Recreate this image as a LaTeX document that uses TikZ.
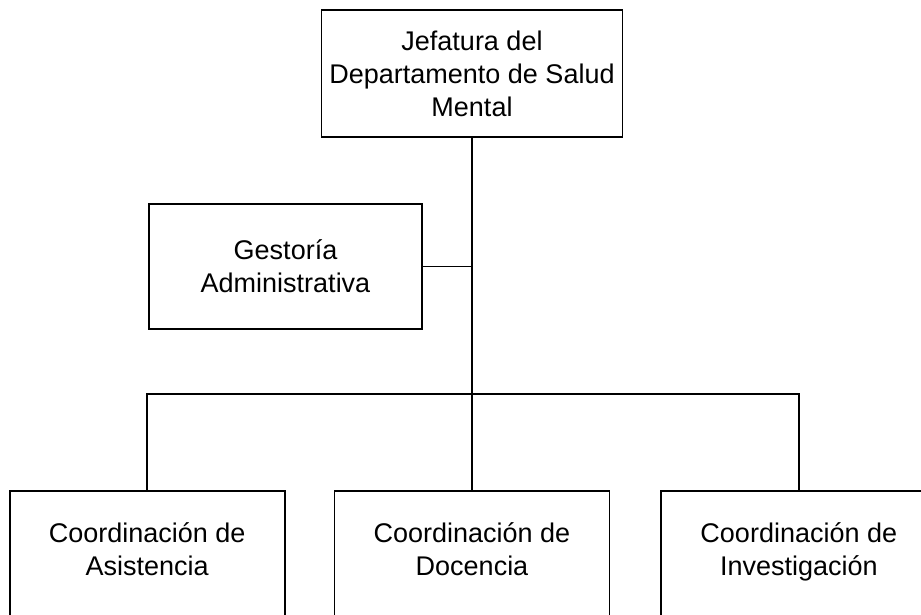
\documentclass[tikz,border=0pt]{standalone}
\usepackage{fontspec}
\setmainfont{Liberation Sans}
\usetikzlibrary{positioning}

\begin{document}
\begin{tikzpicture}[
  caja/.style={draw, line width=0.9pt, align=center, inner sep=0pt,
    minimum width=137.5pt, minimum height=63.5pt,
    font=\fontsize{13.5}{16.5}\selectfont},
  coord/.style={caja, execute at end node=\strut},
  linea/.style={line width=0.9pt},
  node distance=24pt,
]
\useasboundingbox (0,0) rectangle (460.5pt,-307.5pt);

% --- Jefatura (arriba) ---
\node[caja, minimum width=150.5pt] (jefe) at (236pt,-36.75pt)
  {Jefatura del\\Departamento de Salud\\Mental};

% --- Staff ---
\node[caja, minimum width=136.5pt, minimum height=62.5pt] (gestion) at (142.75pt,-133.25pt)
  {Gestoría\\Administrativa};

% --- Coordinaciones (fila inferior) ---
\node[coord] (docencia) at (236pt,-277.25pt) {Coordinación de\\Docencia};
\node[coord, left=of docencia] (asistencia) {Coordinación de\\Asistencia};
\node[coord, right=25pt of docencia] (investigacion) {Coordinación de\\Investigación};

\coordinate (bus) at (236pt,-197pt);

% --- Conectores ---
\draw[linea] (jefe.south) -- (docencia.north);
\draw[linea] (gestion.east) -- (gestion.east -| jefe.south);
\draw[linea] (asistencia.north) |- (bus) -| (investigacion.north);

\end{tikzpicture}
\end{document}
